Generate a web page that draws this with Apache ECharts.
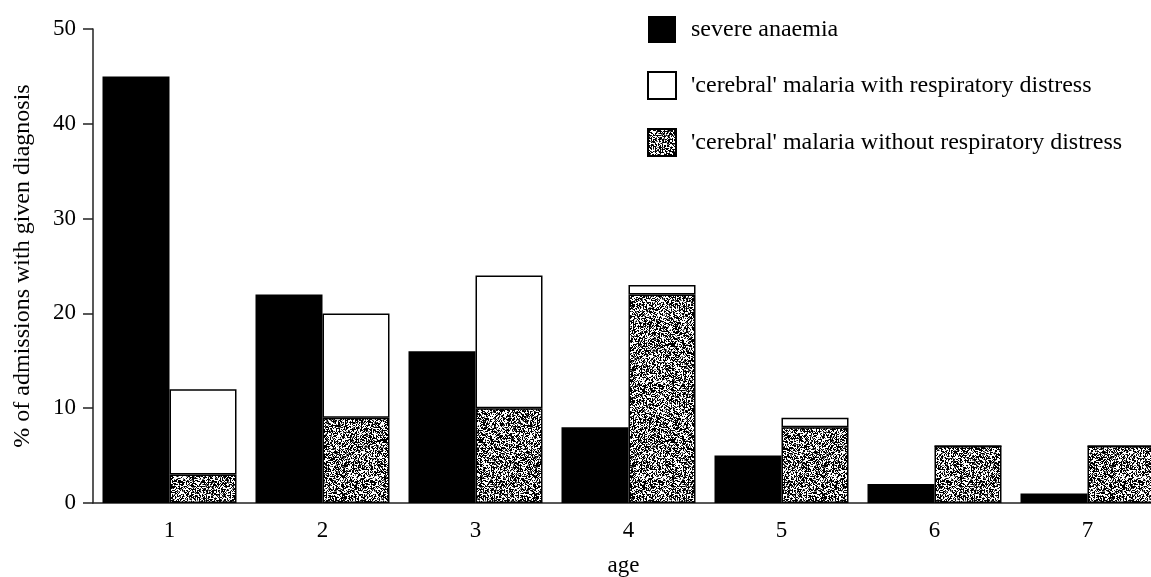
<!DOCTYPE html>
<html>
<head>
<meta charset="utf-8">
<script src="https://cdn.jsdelivr.net/npm/echarts@6/dist/echarts.min.js"></script>
<style>html,body{margin:0;padding:0;background:#fff;}#c{width:1151px;height:577px;}</style>
</head>
<body>
<div id="c"></div>
<script>
const ages = ['1', '2', '3', '4', '5', '6', '7'];
const severeAnaemia = [45, 22, 16, 8, 5, 2, 1];
const cerebralWithRD = [9, 11, 14, 1, 1, 0, 0];
const cerebralWithoutRD = [3, 9, 10, 22, 8, 6, 6];
const yTicks = [0, 10, 20, 30, 40, 50];

function makeStipple() {
  const n = 96;
  const c = document.createElement('canvas');
  c.width = n; c.height = n;
  const ctx = c.getContext('2d');
  const img = ctx.createImageData(n, n);
  let s = 987654321;
  for (let i = 0; i < n * n; i++) {
    s = (Math.imul(s, 1103515245) + 12345) >>> 0;
    const v = (s >>> 16) & 255;
    const val = v < 115 ? 0 : (v < 145 ? 110 : 255);
    img.data[i * 4] = val; img.data[i * 4 + 1] = val; img.data[i * 4 + 2] = val; img.data[i * 4 + 3] = 255;
  }
  ctx.putImageData(img, 0, 0);
  return c;
}
const stipple = { image: makeStipple(), repeat: 'repeat' };

const font = 'Liberation Serif';
const chart = echarts.init(document.getElementById('c'), null, { renderer: 'canvas' });
chart.setOption({
  animation: false,
  backgroundColor: '#fff',
  textStyle: { fontFamily: font, color: '#000' },
  legend: {
    orient: 'vertical',
    left: 647,
    top: 16,
    padding: 0,
    itemWidth: 28,
    itemHeight: 27,
    itemGap: 28,
    icon: 'rect',
    textStyle: { fontFamily: font, fontSize: 24, color: '#000', padding: [0, 0, 0, 10] },
    data: ['severe anaemia', "'cerebral' malaria with respiratory distress", "'cerebral' malaria without respiratory distress"]
  },
  grid: { left: 93, width: 1071, top: 29, bottom: 74, outerBoundsMode: 'none', containLabel: false },
  xAxis: {
    type: 'category',
    data: ages,
    name: 'age',
    nameLocation: 'middle',
    nameGap: 51,
    nameTextStyle: { fontFamily: font, fontSize: 23, color: '#000', padding: [0, 10, 0, 0] },
    axisLine: { lineStyle: { color: '#222', width: 1.5 } },
    axisTick: { length: 10, lineStyle: { color: '#222', width: 1.5 } },
    axisLabel: { fontFamily: font, fontSize: 23, color: '#000', margin: 16 }
  },
  yAxis: {
    type: 'value',
    min: 0,
    max: yTicks[yTicks.length - 1],
    interval: 10,
    name: '% of admissions with given diagnosis',
    nameLocation: 'middle',
    nameGap: 58,
    nameTextStyle: { fontFamily: font, fontSize: 24, color: '#000' },
    splitLine: { show: false },
    axisLine: { show: true, lineStyle: { color: '#222', width: 1.5 } },
    axisTick: { show: true, length: 10, lineStyle: { color: '#222', width: 1.5 } },
    axisLabel: { fontFamily: font, fontSize: 23, color: '#000', margin: 17, padding: [4, 0, 0, 0] }
  },
  series: [
    {
      name: 'severe anaemia', type: 'bar', data: severeAnaemia,
      barWidth: 67, barGap: '0%',
      itemStyle: { color: '#000', borderColor: '#000', borderWidth: 0 }
    },
    {
      name: "'cerebral' malaria without respiratory distress", type: 'bar', stack: 'cm', data: cerebralWithoutRD,
      barWidth: 67, barGap: '0%',
      itemStyle: { color: stipple, borderColor: '#000', borderWidth: 1.5 }
    },
    {
      name: "'cerebral' malaria with respiratory distress", type: 'bar', stack: 'cm', data: cerebralWithRD,
      barWidth: 67, barGap: '0%',
      itemStyle: { color: '#fff', borderColor: '#000', borderWidth: 1.5 }
    }
  ]
});
</script>
</body>
</html>
